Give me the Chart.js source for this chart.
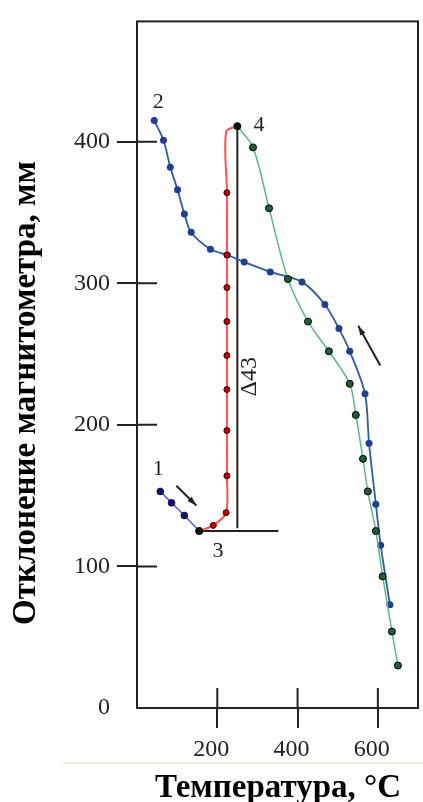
<!DOCTYPE html>
<html>
<head>
<meta charset="utf-8">
<script src="https://cdn.jsdelivr.net/npm/chart.js@4/dist/chart.umd.min.js"></script>
<style>html,body{margin:0;background:#fff}</style>
</head>
<body>
<canvas id="c" width="423" height="802"></canvas>
<script>
// cooling curve 2 -> (high temperature)
const coolX = [43, 66, 83, 101, 118, 135, 183, 225, 267, 332, 411, 468, 503, 530, 568, 578, 595, 607, 630];
const coolY = [415, 401, 382, 366, 349, 336, 324, 320, 315, 308, 301, 285, 268, 252, 222, 187, 144, 115, 73];
// heating 1 -> 3
const startX = [58, 86, 118, 155];
const startY = [153, 145, 136, 125];
// jump 3 -> 4
const jumpX = [155, 190, 222, 224, 224, 224, 224, 224, 224, 224, 224, 222, 250];
const jumpY = [125, 129, 138, 164, 196, 225, 249, 273, 297, 320, 364, 407, 411];
const jumpR = [0, 3, 3, 3, 3, 3, 3, 3, 3, 3, 3, 0, 0];
// heating 4 -> 650
const heatX = [250, 289, 329, 376, 426, 478, 530, 545, 563, 575, 595, 612, 635, 650];
const heatY = [411, 396, 353, 303, 273, 252, 229, 207, 176, 153, 125, 93, 54, 30];
// key points 3 and 4
const keyX = [155, 250];
const keyY = [125, 411];
// delta construction lines
const deltaVX = [250, 250];
const deltaVY = [411, 127];
const deltaHX = [155, 352];
const deltaHY = [125, 125];

const xTicks = [200, 400, 600];
const yTicks = [0, 100, 200, 300, 400];

const pts = (xs, ys) => xs.map((v, i) => ({ x: v, y: ys[i] }));

const serif = '"Liberation Serif", "DejaVu Serif", serif';

const extras = {
  id: 'extras',
  afterDraw(chart) {
    const { ctx, chartArea: a, scales: { x, y } } = chart;
    ctx.save();
    // рамка
    ctx.strokeStyle = '#222';
    ctx.lineWidth = 2;
    ctx.strokeRect(a.left, a.top, a.right - a.left, a.bottom - a.top);
    // засечки внутрь
    ctx.beginPath();
    yTicks.forEach((v) => {
      if (!v) return;
      const py = y.getPixelForValue(v);
      ctx.moveTo(a.left, py);
      ctx.lineTo(a.left + 20, py);
    });
    xTicks.forEach((v) => {
      const px = x.getPixelForValue(v);
      ctx.moveTo(px, a.bottom);
      ctx.lineTo(px, a.bottom - 20);
    });
    ctx.stroke();

    // стрелки
    const arrow = (x0, y0, x1, y1) => {
      const p0 = [x.getPixelForValue(x0), y.getPixelForValue(y0)];
      const p1 = [x.getPixelForValue(x1), y.getPixelForValue(y1)];
      const ang = Math.atan2(p1[1] - p0[1], p1[0] - p0[0]);
      ctx.strokeStyle = '#222';
      ctx.fillStyle = '#222';
      ctx.lineWidth = 2;
      ctx.beginPath();
      ctx.moveTo(p0[0], p0[1]);
      ctx.lineTo(p1[0], p1[1]);
      ctx.stroke();
      ctx.beginPath();
      ctx.moveTo(p1[0], p1[1]);
      ctx.lineTo(p1[0] - 10 * Math.cos(ang - 0.3), p1[1] - 10 * Math.sin(ang - 0.3));
      ctx.lineTo(p1[0] - 10 * Math.cos(ang + 0.3), p1[1] - 10 * Math.sin(ang + 0.3));
      ctx.closePath();
      ctx.fill();
    };
    arrow(98, 157, 148, 143);
    arrow(606, 242, 551, 270);

    // подписи точек
    ctx.fillStyle = '#222';
    ctx.font = '22px ' + serif;
    ctx.textAlign = 'center';
    ctx.textBaseline = 'middle';
    const lbl = (t, vx, vy) => ctx.fillText(t, x.getPixelForValue(vx), y.getPixelForValue(vy));
    lbl('1', 53, 169);
    lbl('2', 53, 428);
    lbl('3', 202, 111);
    lbl('4', 304, 412);

    ctx.save();
    ctx.translate(x.getPixelForValue(282), y.getPixelForValue(234));
    ctx.rotate(-Math.PI / 2);
    ctx.font = '24px ' + serif;
    ctx.fillText('Δ43', 0, 0);
    ctx.restore();

    // линия под подписями оси
    ctx.strokeStyle = '#efe6d6';
    ctx.lineWidth = 1.5;
    ctx.beginPath();
    ctx.moveTo(63, 763);
    ctx.lineTo(423, 763);
    ctx.stroke();

    // заголовки осей
    ctx.fillStyle = '#000';
    ctx.font = 'bold 33px ' + serif;
    ctx.textBaseline = 'alphabetic';
    ctx.fillText('Температура, °C', 278, 797);
    ctx.save();
    ctx.translate(35, 393);
    ctx.rotate(-Math.PI / 2);
    ctx.fillText('Отклонение магнитометра, мм', 0, 0);
    ctx.restore();
    ctx.restore();
  }
};

new Chart(document.getElementById('c'), {
  type: 'line',
  data: {
    datasets: [
      {
        data: pts(keyX, keyY), showLine: false, order: 0,
        pointRadius: 3.5, pointBackgroundColor: '#111', pointBorderColor: '#000', pointBorderWidth: 1
      },
      {
        data: pts(jumpX, jumpY), order: 1, tension: 0.3,
        borderColor: '#ff5050', borderWidth: 2,
        pointRadius: jumpR, pointBackgroundColor: '#c00000', pointBorderColor: '#300', pointBorderWidth: 1
      },
      {
        data: pts(startX, startY), order: 2, tension: 0,
        borderColor: '#5a5aff', borderWidth: 1.5,
        pointRadius: 3.5, pointBackgroundColor: '#12126e', pointBorderColor: '#000', pointBorderWidth: 0.5
      },
      {
        data: pts(heatX, heatY), order: 3, tension: 0.3,
        borderColor: '#5cb88a', borderWidth: 1.5,
        pointRadius: [0, 3.5, 3.5, 3.5, 3.5, 3.5, 3.5, 3.5, 3.5, 3.5, 3.5, 3.5, 3.5, 3.5],
        pointBackgroundColor: '#1e5e3c', pointBorderColor: '#000', pointBorderWidth: 1
      },
      {
        data: pts(coolX, coolY), order: 4, tension: 0.3,
        borderColor: '#2f5d9c', borderWidth: 1.8,
        pointRadius: 3.5, pointBackgroundColor: '#1f3f8f', pointBorderColor: '#1f3f8f', pointBorderWidth: 0
      },
      {
        data: pts(deltaVX, deltaVY), order: 5, borderColor: '#222', borderWidth: 2, pointRadius: 0
      },
      {
        data: pts(deltaHX, deltaHY), order: 5, borderColor: '#222', borderWidth: 2, pointRadius: 0
      }
    ]
  },
  options: {
    responsive: false,
    animation: false,
    events: [],
    layout: { padding: { left: 0, right: 4, top: 14, bottom: 0 } },
    plugins: { legend: { display: false }, tooltip: { enabled: false } },
    scales: {
      x: {
        type: 'linear', min: 0, max: 700,
        afterBuildTicks: (s) => { s.ticks = xTicks.map((v) => ({ value: v })); },
        afterFit: (s) => { s.height = 94; },
        grid: { drawOnChartArea: false, drawTicks: true, tickLength: 20, color: '#222', lineWidth: 2 },
        border: { display: false },
        ticks: { padding: 7, labelOffset: -6, color: '#222', font: { family: serif, size: 24 } }
      },
      y: {
        type: 'linear', min: 0, max: 485,
        afterBuildTicks: (s) => { s.ticks = yTicks.map((v) => ({ value: v })); },
        afterFit: (s) => { s.width = 137; },
        grid: {
          drawOnChartArea: false, drawTicks: true, tickLength: 20, lineWidth: 2,
          color: (c) => (c.tick && c.tick.value === 0 ? 'rgba(0,0,0,0)' : '#222')
        },
        border: { display: false },
        ticks: { padding: 7, color: '#222', font: { family: serif, size: 24 } }
      }
    }
  },
  plugins: [extras]
});
</script>
</body>
</html>
